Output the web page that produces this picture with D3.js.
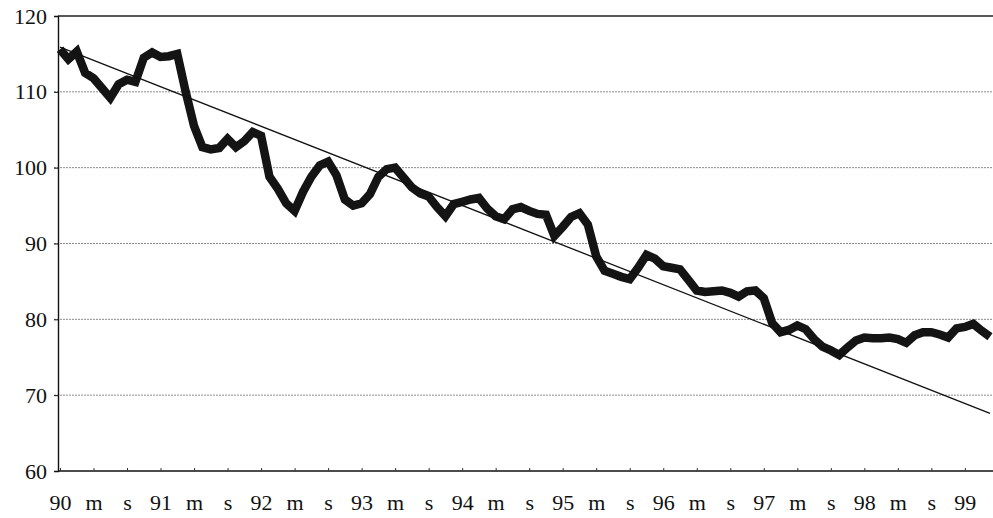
<!DOCTYPE html>
<html>
<head>
<meta charset="utf-8">
<script src="https://cdn.jsdelivr.net/npm/d3@7.9.0/dist/d3.min.js"></script>
<style>
  body { margin: 0; background: #fff; }
  svg text { font-family: "Liberation Serif", "Times New Roman", "DejaVu Serif", serif; fill: #111; }
</style>
</head>
<body>
<svg id="chart" width="993" height="518"></svg>
<script>
// monthly index, Jan 1990 .. Apr 1999
const values = [
  115.6, 114.3, 115.3, 112.5, 111.8, 110.5, 109.2, 111.0, 111.6, 111.3, 114.5, 115.2,
  114.6, 114.7, 115.0, 110.0, 105.5, 102.7, 102.4, 102.6, 103.8, 102.7, 103.5, 104.7,
  104.2, 98.8, 97.2, 95.3, 94.3, 96.8, 98.8, 100.3, 100.8, 99.0, 95.8, 95.0,
  95.3, 96.5, 98.8, 99.8, 100.0, 98.7, 97.4, 96.6, 96.2, 94.8, 93.6, 95.2,
  95.5, 95.8, 96.0, 94.6, 93.6, 93.2, 94.5, 94.8, 94.3, 93.9, 93.8, 91.0,
  92.2, 93.5, 94.0, 92.5, 88.3, 86.4, 86.0, 85.6, 85.3, 86.8, 88.5, 88.0,
  87.0, 86.8, 86.6, 85.2, 83.8, 83.6, 83.7, 83.8, 83.5, 83.0, 83.7, 83.8,
  82.8, 79.5, 78.3, 78.6, 79.2, 78.7, 77.4, 76.4, 75.9, 75.3, 76.3, 77.2,
  77.6, 77.5, 77.5, 77.6, 77.4, 76.9, 77.9, 78.3, 78.3, 78.0, 77.6, 78.8,
  79.0, 79.4, 78.5, 77.7
];
// trend line values at first and last month
const trend = [115.9, 67.6];
const years = ["90", "91", "92", "93", "94", "95", "96", "97", "98", "99"];
const monthMarks = ["", "m", "s"];   // label every 4 months: year, May, Sep
const yTicks = [60, 70, 80, 90, 100, 110, 120];

const svg = d3.select('#chart');
const plotLeft = 58, plotRight = 993, plotTop = 16, plotBottom = 471;
const serif = '"Liberation Serif", "Times New Roman", "DejaVu Serif", serif';

const x = d3.scaleLinear().domain([0, values.length - 1]).range([60, 990]);
const y = d3.scaleLinear().domain([60, 120]).range([plotBottom, plotTop]);

// gridlines
svg.append('g')
  .selectAll('line')
  .data(yTicks.filter(d => d > 60 && d < 120))
  .join('line')
  .attr('x1', plotLeft - 4).attr('x2', plotRight)
  .attr('y1', d => y(d)).attr('y2', d => y(d))
  .attr('stroke', '#8a8a8a')
  .attr('stroke-width', 1)
  .attr('stroke-dasharray', '2,1');

// top border
svg.append('line')
  .attr('x1', plotLeft).attr('x2', plotRight)
  .attr('y1', y(120)).attr('y2', y(120))
  .attr('stroke', '#222').attr('stroke-width', 1.3);

// y axis
const yAxis = d3.axisLeft(y).tickValues(yTicks).tickSize(4).tickPadding(7);
const gy = svg.append('g').attr('transform', `translate(${plotLeft},0)`).call(yAxis);
gy.select('.domain').attr('stroke', '#111').attr('stroke-width', 1.4);
gy.selectAll('.tick line').attr('stroke', '#111');
gy.selectAll('text').style('font-family', serif).style('font-size', '22px');

// x axis
const labelIdx = d3.range(0, values.length, 4);
const labelText = i => {
  const k = (i / 4) % 3;
  return k === 0 ? years[Math.floor(i / 12)] : monthMarks[k];
};
const xAxis = d3.axisBottom(x).tickValues(labelIdx).tickFormat(labelText)
  .tickSizeInner(-3).tickSizeOuter(0).tickPadding(23);
const gx = svg.append('g').attr('transform', `translate(0,${plotBottom})`).call(xAxis);
gx.select('.domain').attr('d', `M${plotLeft},0H${plotRight}`).attr('stroke', '#111').attr('stroke-width', 1.6);
gx.selectAll('.tick line').attr('stroke', '#333');
gx.selectAll('text').style('font-family', serif).style('font-size', '22px');

// data line
const line = d3.line().x((d, i) => x(i)).y(d => y(d));
svg.append('path')
  .datum(values)
  .attr('d', line)
  .attr('fill', 'none')
  .attr('stroke', '#141414')
  .attr('stroke-width', 8.5)
  .attr('stroke-linejoin', 'miter')
  .attr('stroke-miterlimit', 2);

// trend line
const n = values.length - 1;
svg.append('line')
  .attr('x1', x(0)).attr('y1', y(trend[0]))
  .attr('x2', x(n)).attr('y2', y(trend[1]))
  .attr('stroke', '#111')
  .attr('stroke-width', 1.3);
</script>
</body>
</html>
